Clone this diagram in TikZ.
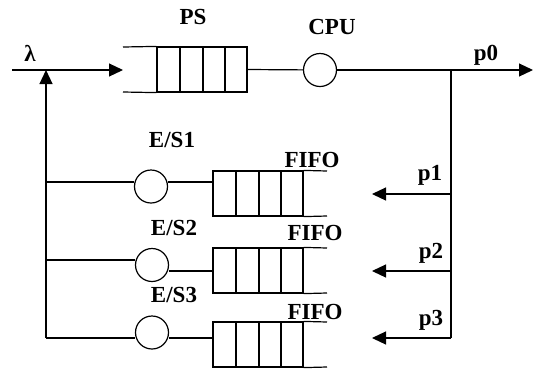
\documentclass[tikz,border=0pt]{standalone}
\usepackage{fontspec}
\setmainfont{Liberation Serif}
\usetikzlibrary{arrows.meta}
\tikzset{
  ln/.style={line width=1.2pt, black},
  arr/.style={ln, -{Triangle[length=14pt,width=13pt]}},
  srv/.style={circle, draw, line width=1.2pt, minimum size=33pt, inner sep=0pt},
  qcells/.style={draw, line width=1.2pt, minimum width=90pt, minimum height=45pt, inner sep=0pt},
  lbl/.style={font=\fontsize{23}{23}\selectfont\bfseries, inner sep=0pt},
}
\begin{document}
\begin{tikzpicture}[x=1pt,y=-1pt]
\useasboundingbox (0,0) rectangle (533,368);
% PS queue + CPU
\node[qcells] (ps) at (202,69.5) {};
\foreach \x in {180,203,225} \draw[ln] (\x,47) -- (\x,92);
\coordinate (psin) at (123,70);
\draw[ln] (ps.north west) -- (123,47);
\draw[ln] (ps.south west) -- (123,92);
\node[srv] (cpu) at (320,70) {};
\coordinate (lamstart) at (12,70);
\coordinate (junc) at (451,70);
\coordinate (out) at (533,70);
\draw[arr] (lamstart) -- (psin);
\draw[ln] (ps.east) -- (cpu);
\draw[arr] (cpu) -- (out);
% left feedback line
\coordinate (L0) at (46,70);
\coordinate (L1) at (46,182);
\coordinate (L2) at (46,260);
\coordinate (L3) at (46,338);
\draw[ln] (L3) -- (L1);
\draw[arr] (L1) -- (L0);
% E/S servers
\node[srv] (es1) at (151,186.5) {};
\node[srv] (es2) at (152,265) {};
\node[srv] (es3) at (152,332.5) {};
\draw[ln] (L1) -- (L1 -| es1.west);
\draw[ln] (L2) -- (L2 -| es2.west);
\draw[ln] (L3) -- (L3 -| es3.west);
% FIFO queues
\node[qcells] (f1) at (258,193.5) {};
\node[qcells] (f2) at (258,270.5) {};
\node[qcells] (f3) at (258,344.5) {};
\foreach \q/\t/\b in {f1/171/216,f2/248/293,f3/322/367}{
  \foreach \x in {236,259,281} \draw[ln] (\x,\t) -- (\x,\b);
  \draw[ln] (\q.north east) -- (327,\t);
  \draw[ln] (\q.south east) -- (327,\b);
}
\draw[ln] (es1.east |- 0,182) -- (f1.west |- 0,182);
\draw[ln] (es2.east |- 0,271) -- (f2.west |- 0,271);
\draw[ln] (es3.east |- 0,338) -- (f3.west |- 0,338);
% right branch line
\coordinate (R1) at (451,194);
\coordinate (R2) at (451,271);
\coordinate (R3) at (451,338);
\coordinate (T1) at (372,194);
\coordinate (T2) at (372,271);
\coordinate (T3) at (372,338);
\draw[ln] (junc) -- (R3);
\draw[arr] (R1) -- (T1);
\draw[arr] (R2) -- (T2);
\draw[arr] (R3) -- (T3);
% labels
\node[lbl] (lam) at (30,53) {λ};
\node[lbl] (psl) at (193,17) {PS};
\node[lbl] (cpul) at (332,27) {CPU};
\node[lbl] (p0) at (486,55) {p0};
\node[lbl] (es1l) at (172,140) {E/S1};
\node[lbl] (es2l) at (174,228) {E/S2};
\node[lbl] (es3l) at (174,295) {E/S3};
\node[lbl] (fl1) at (312,160) {FIFO};
\node[lbl] (fl2) at (315,233) {FIFO};
\node[lbl] (fl3) at (315,312) {FIFO};
\node[lbl] (p1) at (430,175) {p1};
\node[lbl] (p2) at (431,253) {p2};
\node[lbl] (p3) at (431,320) {p3};
\end{tikzpicture}
\end{document}
